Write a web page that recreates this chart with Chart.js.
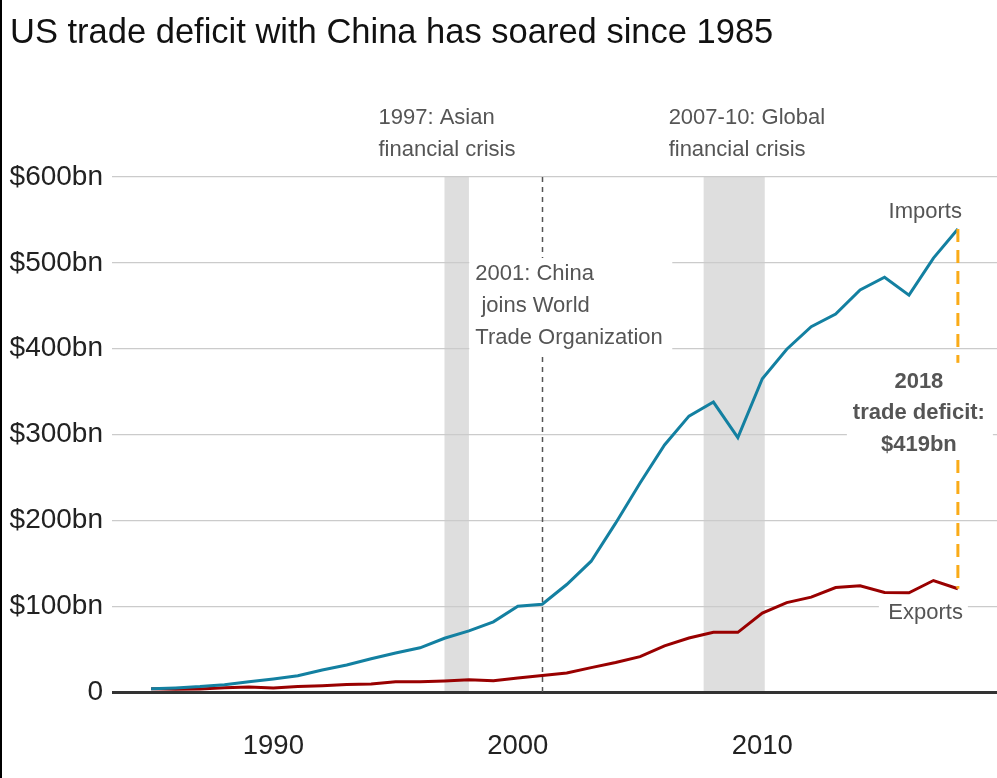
<!DOCTYPE html>
<html>
<head>
<meta charset="utf-8">
<title>US trade deficit with China</title>
<script src="https://cdn.jsdelivr.net/npm/chart.js@4/dist/chart.umd.min.js"></script>
<style>
  html, body { margin: 0; padding: 0; background: #fff; }
  #wrap { position: relative; width: 997px; height: 778px; }
  #edge { position: absolute; left: 0; top: 0; width: 2px; height: 778px; background: #000; }
</style>
</head>
<body>
<div id="wrap">
  <canvas id="chart" width="997" height="778"></canvas>
  <div id="edge"></div>
</div>
<script>
  "use strict";

  // ---- data (US$ bn) ----
  const years = [1985, 1986, 1987, 1988, 1989, 1990, 1991, 1992, 1993, 1994, 1995, 1996,
    1997, 1998, 1999, 2000, 2001, 2002, 2003, 2004, 2005, 2006, 2007, 2008, 2009, 2010,
    2011, 2012, 2013, 2014, 2015, 2016, 2017, 2018];
  const imports = [3.9, 4.8, 6.3, 8.5, 12.0, 15.2, 19.0, 25.7, 31.5, 38.8, 45.5, 51.5,
    62.6, 71.2, 81.8, 100.0, 102.3, 125.2, 152.4, 196.7, 243.5, 287.8, 321.4, 337.8, 296.4, 364.9,
    399.4, 425.6, 440.4, 468.5, 483.2, 462.4, 505.5, 539.5];
  const exports = [3.9, 3.1, 3.5, 5.0, 5.8, 4.8, 6.3, 7.4, 8.8, 9.3, 11.8, 12.0,
    12.9, 14.2, 13.1, 16.2, 19.2, 22.1, 28.4, 34.4, 41.2, 53.7, 62.9, 69.7, 69.5, 91.9,
    104.1, 110.5, 121.7, 123.7, 115.9, 115.6, 129.9, 120.3];

  const xTickYears = [1990, 2000, 2010];
  const yTickValues = [0, 100, 200, 300, 400, 500, 600];
  const yTickLabels = ["0", "$100bn", "$200bn", "$300bn", "$400bn", "$500bn", "$600bn"];

  const crisisBands = [[1997, 1998], [2007.6, 2010.1]];
  const wtoYear = 2001;
  const deficitYear = 2018;

  const titleText = "US trade deficit with China has soared since 1985";
  const asiaNote = ["1997: Asian", "financial crisis"];
  const globalNote = ["2007-10: Global", "financial crisis"];
  const wtoNote = ["2001: China", " joins World", "Trade Organization"];
  const deficitNote = ["2018", "trade deficit:", "$419bn"];

  const COLORS = {
    imports: "#1380A1",
    exports: "#990000",
    deficit: "#FAAB18",
    band: "#dedede",
    grid: "#cbcbcb",
    axis: "#333333",
    note: "#555555",
  };
  const FONT = "'Liberation Sans', Arial, Helvetica, sans-serif";

  function toPoints(vals) {
    return years.map((y, i) => ({ x: y, y: vals[i] }));
  }

  function textLines(ctx, lines, x, y, lh) {
    lines.forEach((t, i) => ctx.fillText(t, x, y + i * lh));
  }

  function whiteBox(ctx, x0, y0, x1, y1) {
    ctx.fillStyle = "#fff";
    ctx.fillRect(x0, y0, x1 - x0, y1 - y0);
  }

  const annotations = {
    id: "annotations",
    beforeDraw(chart) {
      const { ctx, chartArea: a, scales: { x } } = chart;
      ctx.save();
      ctx.fillStyle = "#fff";
      ctx.fillRect(0, 0, chart.width, chart.height);
      ctx.fillStyle = COLORS.band;
      crisisBands.forEach(([s, e]) => {
        const x0 = x.getPixelForValue(s);
        const x1 = x.getPixelForValue(e);
        ctx.fillRect(x0, a.top, x1 - x0, a.bottom - a.top);
      });
      ctx.restore();
    },
    beforeDatasetsDraw(chart) {
      const { ctx, chartArea: a, scales: { x } } = chart;
      const px = Math.round(x.getPixelForValue(wtoYear)) + 0.5;
      ctx.save();
      ctx.strokeStyle = "#555";
      ctx.lineWidth = 1.5;
      ctx.setLineDash([5, 5]);
      ctx.beginPath();
      ctx.moveTo(px, a.top);
      ctx.lineTo(px, a.bottom);
      ctx.stroke();
      ctx.restore();
    },
    afterDatasetsDraw(chart) {
      const { ctx, scales: { x, y } } = chart;
      const last = years.indexOf(deficitYear);
      const dx = x.getPixelForValue(deficitYear);
      const yTop = y.getPixelForValue(imports[last]);
      const yBot = y.getPixelForValue(exports[last]);

      ctx.save();
      // deficit gap
      ctx.strokeStyle = COLORS.deficit;
      ctx.lineWidth = 3;
      ctx.setLineDash([13, 8]);
      ctx.beginPath();
      ctx.moveTo(dx, yTop);
      ctx.lineTo(dx, yBot);
      ctx.stroke();
      ctx.setLineDash([]);

      // title
      ctx.fillStyle = "#111";
      ctx.font = `34.5px ${FONT}`;
      ctx.textBaseline = "middle";
      ctx.textAlign = "left";
      ctx.fillText(titleText, 10, 33);

      ctx.font = `22px ${FONT}`;
      ctx.fillStyle = COLORS.note;

      // crisis notes above plot
      const bandTop = y.getPixelForValue(600);
      textLines(ctx, asiaNote, x.getPixelForValue(crisisBands[0][0]) - 66, bandTop - 59, 32);
      textLines(ctx, globalNote, x.getPixelForValue(crisisBands[1][0]) - 35, bandTop - 59, 32);

      // WTO note
      const wx = x.getPixelForValue(wtoYear);
      const wy = y.getPixelForValue(487);
      whiteBox(ctx, wx - 73, wy - 16, wx + 130, wy + 80);
      ctx.fillStyle = COLORS.note;
      textLines(ctx, wtoNote, wx - 67, wy, 32);

      // series labels
      ctx.textAlign = "right";
      ctx.fillText("Imports", dx + 4, yTop - 17);
      whiteBox(ctx, dx - 79, yBot + 9, dx + 10, yBot + 37);
      ctx.fillStyle = COLORS.note;
      ctx.fillText("Exports", dx + 5, yBot + 24);

      // deficit note
      const my = (yTop + yBot) / 2;
      whiteBox(ctx, dx - 111, my - 46, dx + 35, my + 46);
      ctx.fillStyle = COLORS.note;
      ctx.font = `bold 22px ${FONT}`;
      ctx.textAlign = "center";
      textLines(ctx, deficitNote, dx - 39, my - 27, 31.5);
      ctx.restore();
    },
  };

  new Chart(document.getElementById("chart"), {
    type: "line",
    data: {
      datasets: [
        {
          label: "Imports",
          data: toPoints(imports),
          borderColor: COLORS.imports,
          borderWidth: 3,
          pointRadius: 0,
          tension: 0,
          fill: false,
        },
        {
          label: "Exports",
          data: toPoints(exports),
          borderColor: COLORS.exports,
          borderWidth: 3,
          pointRadius: 0,
          tension: 0,
          fill: false,
        },
      ],
    },
    options: {
      responsive: false,
      animation: false,
      events: [],
      layout: { padding: { top: 177, left: 0, right: 0, bottom: 0 } },
      plugins: { legend: { display: false }, tooltip: { enabled: false } },
      scales: {
        x: {
          type: "linear",
          min: 1983.4,
          max: 2019.6,
          afterBuildTicks: (s) => { s.ticks = xTickYears.map((v) => ({ value: v })); },
          afterFit: (s) => { s.height = 86; },
          grid: { display: false, drawTicks: false },
          border: { display: false },
          ticks: {
            color: "#222",
            font: { family: FONT, size: 27.5 },
            padding: 38,
            maxRotation: 0,
            callback: (v) => String(v),
          },
        },
        y: {
          min: 0,
          max: 600,
          afterBuildTicks: (s) => { s.ticks = yTickValues.map((v) => ({ value: v })); },
          afterFit: (s) => { s.width = 112; },
          grid: {
            drawTicks: false,
            color: (c) => (c.tick && c.tick.value === 0 ? COLORS.axis : COLORS.grid),
            lineWidth: (c) => (c.tick && c.tick.value === 0 ? 3 : 1.2),
          },
          border: { display: false },
          ticks: {
            color: "#222",
            font: { family: FONT, size: 28 },
            padding: 9,
            callback: (v) => yTickLabels[yTickValues.indexOf(v)],
          },
        },
      },
    },
    plugins: [annotations],
  });
</script>
</body>
</html>
